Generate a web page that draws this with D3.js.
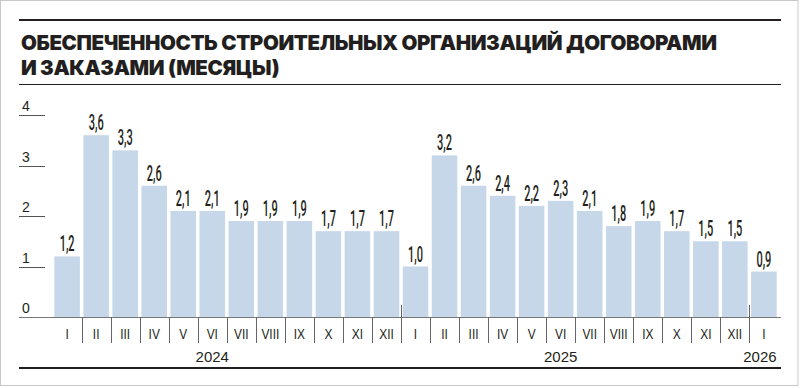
<!DOCTYPE html>
<html>
<head>
<meta charset="utf-8">
<script src="https://cdn.jsdelivr.net/npm/d3@7"></script>
<style>
  body { margin: 0; background: #fff; }
  svg { display: block; }
</style>
</head>
<body>
<svg id="chart" width="800" height="388"></svg>
<script>
const titleLines = ['ОБЕСПЕЧЕННОСТЬ СТРОИТЕЛЬНЫХ ОРГАНИЗАЦИЙ ДОГОВОРАМИ', 'И ЗАКАЗАМИ (МЕСЯЦЫ)'];
const months = ['I', 'II', 'III', 'IV', 'V', 'VI', 'VII', 'VIII', 'IX', 'X', 'XI', 'XII',
  'I', 'II', 'III', 'IV', 'V', 'VI', 'VII', 'VIII', 'IX', 'X', 'XI', 'XII', 'I'];
const years = ['2024', '2025', '2026'];
const yearOfBar = [0,0,0,0,0,0,0,0,0,0,0,0, 1,1,1,1,1,1,1,1,1,1,1,1, 2];
const values = [1.2, 3.6, 3.3, 2.6, 2.1, 2.1, 1.9, 1.9, 1.9, 1.7, 1.7, 1.7,
  1.0, 3.2, 2.6, 2.4, 2.2, 2.3, 2.1, 1.8, 1.9, 1.7, 1.5, 1.5, 0.9];
const yTicks = [0, 1, 2, 3, 4];

const svg = d3.select('#chart');
const ink = '#231f20';

// frame
svg.append('rect')
  .attr('x', 0.5).attr('y', 0.5)
  .attr('width', 797.5).attr('height', 385)
  .attr('fill', 'none').attr('stroke', '#c8c8c8');

// rules
svg.append('line').attr('x1', 19).attr('x2', 781).attr('y1', 20).attr('y2', 20)
  .attr('stroke', ink).attr('stroke-width', 2);
svg.append('line').attr('x1', 19).attr('x2', 781).attr('y1', 84.5).attr('y2', 84.5)
  .attr('stroke', ink).attr('stroke-width', 1);
svg.append('line').attr('x1', 19).attr('x2', 781).attr('y1', 368).attr('y2', 368)
  .attr('stroke', ink).attr('stroke-width', 2);

// title
const title = svg.append('g')
  .attr('font-family', 'Inter, "Open Sans", sans-serif')
  .attr('font-weight', 900)
  .attr('font-size', 20.5)
  .attr('fill', ink);
const t1 = title.append('text').attr('x', 21).attr('y', 50).text(titleLines[0]);
const w1 = t1.node().getComputedTextLength();
const ls = (696 - w1) / (titleLines[0].length - 1);
title.attr('letter-spacing', ls);
title.append('text').attr('x', 21).attr('y', 75).text(titleLines[1]);

const x = d3.scaleBand()
  .domain(d3.range(values.length))
  .range([52.6, 778.4])
  .paddingInner(0.12)
  .paddingOuter(0.06);

const y = d3.scaleLinear().domain([0, 4]).range([317, 115]);

// y ticks
const yg = svg.append('g').attr('font-family', 'Liberation Sans, Arial, sans-serif')
  .attr('font-size', 14).attr('fill', ink);
yg.selectAll('line').data(yTicks.filter(d => d > 0)).join('line')
  .attr('x1', 19).attr('x2', 45)
  .attr('y1', d => Math.round(y(d)) + 0.5).attr('y2', d => Math.round(y(d)) + 0.5)
  .attr('stroke', '#555');
yg.selectAll('text').data(yTicks).join('text')
  .attr('x', 22).attr('y', d => y(d) - 4)
  .text(d => d);

// bars
svg.append('g').selectAll('rect').data(values).join('rect')
  .attr('x', (d, i) => x(i))
  .attr('width', x.bandwidth())
  .attr('y', d => y(d))
  .attr('height', d => y(0) - y(d))
  .attr('fill', '#c6d7e9');

// value labels
svg.append('g').selectAll('g').data(values).join('g')
  .attr('transform', (d, i) => `translate(${x(i) + x.bandwidth() / 2},${y(d) - 5})`)
  .append('text')
  .attr('transform', 'scale(0.5,1)')
  .attr('text-anchor', 'middle')
  .attr('font-family', 'Roboto, sans-serif')
  .attr('font-weight', 500)
  .attr('font-size', 22)
  .attr('fill', ink)
  .text(d => d3.format('.1f')(d).replace('.', ','));

// baseline
svg.append('line').attr('x1', 19).attr('x2', 781)
  .attr('y1', y(0) + 0.5).attr('y2', y(0) + 0.5)
  .attr('stroke', '#777');

// separators
const step = x.step();
const seps = d3.range(1, values.length);
svg.append('g').selectAll('line').data(seps).join('line')
  .attr('x1', i => Math.round(x(i) - step * 0.06) + 0.5)
  .attr('x2', i => Math.round(x(i) - step * 0.06) + 0.5)
  .attr('y1', i => yearOfBar[i] !== yearOfBar[i - 1] ? 305 : y(0))
  .attr('y2', 343)
  .attr('stroke', '#666');

// month labels
svg.append('g').selectAll('g').data(months).join('g')
  .attr('transform', (d, i) => `translate(${x(i) + x.bandwidth() / 2},338.5)`)
  .append('text')
  .attr('transform', 'scale(0.85,1)')
  .attr('text-anchor', 'middle')
  .attr('font-family', 'Liberation Sans, Arial, sans-serif')
  .attr('font-size', 14)
  .attr('fill', ink)
  .text(d => d);

// year labels
svg.append('g').selectAll('text').data(years).join('text')
  .attr('font-family', 'Liberation Sans, Arial, sans-serif')
  .attr('font-size', 15)
  .attr('fill', ink)
  .attr('y', 362)
  .each(function (d, k) {
    const idx = d3.range(values.length).filter(i => yearOfBar[i] === k);
    const sel = d3.select(this);
    if (idx.length >= 6) {
      sel.attr('x', x(idx[5]) + x.bandwidth() / 2).attr('text-anchor', 'middle');
    } else {
      sel.attr('x', x(idx[idx.length - 1]) + x.bandwidth()).attr('text-anchor', 'end');
    }
  })
  .text(d => d);
</script>
</body>
</html>
